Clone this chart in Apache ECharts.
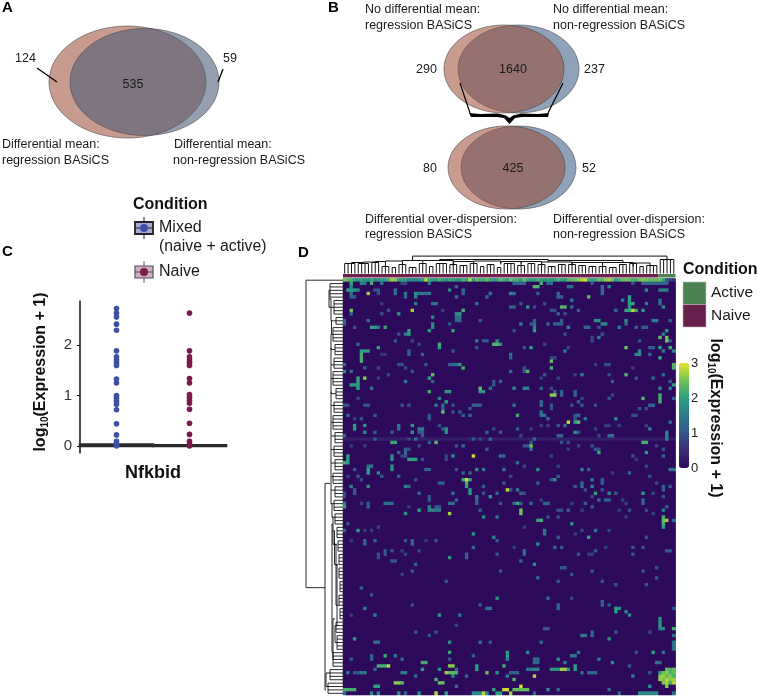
<!DOCTYPE html>
<html><head><meta charset="utf-8">
<style>html,body{margin:0;padding:0;background:#fff}#c{width:758px;height:698px}</style>
<script src="https://cdn.jsdelivr.net/npm/echarts@6/dist/echarts.min.js"></script>
</head><body><div id="c"></div>
<script>
// Panel C
const exprCats = ['Mixed','Naive'];
const exprMixed = [2.73,2.64,2.56,2.42,2.30,1.89,1.77,1.71,1.66,1.60,1.33,1.25,1.0,0.95,0.89,0.83,0.72,0.44,0.22,0.09,0.04,0];
const exprNaive = [2.64,1.89,1.77,1.71,1.66,1.60,1.34,1.25,1.02,0.97,0.91,0.85,0.73,0.45,0.23,0.09,0.04,0];
const exprBox = [[0,0,0,0.03,0.03],[0,0,0,0.015,0.015]];
// Panel D
const colCount = 98, rowCount = 123;
const conditionCols = [['Naive',93],['Active',5]];
const firstRow = [2.5,2.4,2.2,2.0,1.9,2.0,1.8,1.9,2.1,1.7,1.8,2.0,1.9,2.2,2.7,2.6,2.0,2.0,1.9,1.7,1.7,1.6,1.8,2.0,2.8,2.1,2.0,1.9,2.2,2.0,1.8,2.1,2.0,1.9,1.9,2.2,2.0,2.8,2.0,2.4,2.2,2.2,2.4,2.1,2.0,2.0,2.4,2.2,2.0,
 2.5,2.2,2.2,2.0,2.4,2.1,2.0,2.0,2.2,1.9,2.0,2.0,1.8,2.0,2.2,2.1,2.0,2.3,2.4,2.4,2.6,2.8,2.9,2.2,2.0,2.1,2.4,2.3,2.6,2.7,2.5,2.0,2.2,2.4,2.5,2.4,2.2,2.2,2.5,2.6,2.5,2.4,2.4,2.4,2.5,2.0,1.0,0.8,0.6];
const faintRow47 = 0.3;
const cellsUpperLeft = [[1,2,2],[1,5,1.5],[1,6,1.5],[1,8,2.2],[1,11,1.3],[1,17,.8],[1,18,.8],[1,25,1.3],[2,2,1.6],[2,33,1.2],[3,1,1.9],[3,2,1.9],[3,3,1.9],[3,4,1.7],[3,9,1],[3,10,1],[3,15,1.3],[3,31,1.7],[3,35,1.4],[4,2,1.3],[4,7,2.7],[4,10,1],[4,15,1.3],[4,18,1.5],[4,21,1.8],[4,22,1.4],[4,23,1.4],[4,24,1.4],[4,25,1.4],[4,35,1.2],[4,43,1.4],[5,2,1.2],[5,3,1],[5,18,1.3],[5,21,1.7],[5,33,1.4],[5,42,1.3],[7,26,1.5],[7,27,1.5],[7,11,.7],[7,39,1.4],[7,21,1.5],
[9,2,2.5],[9,20,2.7],[9,13,.9],[9,29,.7],[9,35,2.2],[10,33,1.7],[10,34,1.9],[11,33,1.3],[11,34,1.4],[12,33,1.2],[12,34,1.3],[10,2,1.2],[10,11,.9],[10,16,1.9],[11,26,1.7],[12,0,1.2],[13,0,1.1],[12,7,1.3],[13,26,1.7],[13,31,1],[12,40,1.1],[14,8,2],[14,9,2],[14,10,1.5],[14,12,2.1],[14,3,1],[14,26,1.8],[15,32,2.1],[15,25,1.9],[15,19,2],[16,19,2],[16,18,1.6],[16,16,.9],
[19,4,1.2],[19,28,2.2],[20,28,2],[18,39,1.5],[18,42,1.1],[18,41,1],[18,45,1.6],[19,44,2.3],[19,45,2.3],[19,46,1.8],[20,39,1],[20,10,2],[18,15,1],[18,20,.8],[19,22,.8],[21,5,2],[21,6,2],[21,7,2],[22,5,2.2],[23,5,2.2],[24,5,2.2],[21,19,1.1],[22,19,1.1],[22,23,1.2],[21,32,1],[22,11,.6],[22,12,.6],[26,10,.9],[26,6,1],[25,0,1.2],[27,0,1.7],[27,2,1.3],[25,16,.9],[25,17,.9],[27,20,1],[26,18,.9],[25,24,1],[25,31,1],[25,34,1.9],[25,32,1.3],[25,33,1.3],[26,35,2.2],[28,26,2.4],[29,25,2],[29,4,2.1],[29,6,2.6],[31,2,2],[31,3,2],[30,4,2],[31,4,2],[32,4,2],[29,10,.8],[30,18,1.5],[30,26,1.2],[30,44,1],[31,44,1],[30,46,1.3],[28,13,.9],[32,8,1.5],[32,40,2.4],[33,40,1.9],[33,41,1.9],[33,30,1.9],[33,31,1.9],[33,25,2.2],[32,43,1.3],[35,28,1.5],[36,30,2],[37,27,1.5],[37,29,1.2],[38,29,1.2],[39,29,2.4],[37,38,1.1],[37,39,1.1],[37,40,1.1],[37,0,1],[37,1,1],[37,6,1],[37,7,1],[37,17,1],[37,19,1],[35,4,.8],[38,37,1],[37,32,1],[39,32,1],[39,34,1]];
const cellsUpperRight = [[1,50,1.2],[1,51,1.2],[1,52,1.2],[1,53,1.2],[1,58,2.2],[1,60,1.2],[1,61,1.2],[2,66,1.3],[2,67,1.3],[2,56,2.3],[2,57,2.3],[2,76,1.3],[3,76,1.3],[4,76,1.3],[2,78,1.6],[1,73,1],[1,85,1],[1,88,1.2],[1,89,1.2],[1,90,1.2],[1,91,1.2],[1,92,1.2],[1,93,1.2],[1,94,1.2],[1,95,1.2],[3,89,1.7],[3,93,1.6],[3,94,1.6],[3,95,1.6],[4,57,1.1],[4,49,1.7],[4,50,1.3],[4,63,1.2],[5,63,1.2],[5,64,1.1],[5,84,2],[6,84,2],[7,84,2],[5,72,2.4],[6,93,1.3],[7,93,1.3],[6,67,1.5],[6,82,1.5],[7,59,.9],[7,89,1.5],[8,49,1.2],[8,50,1.2],[7,52,1],[8,54,1.9],[8,56,.9],[8,64,2.3],[8,65,2.3],[8,67,1.3],[8,94,1.7],[7,85,2.1],[9,83,2.1],[9,84,2.1],[9,85,2.8],[9,86,2.1],[9,80,1.3],[8,84,1.8],[9,88,1.9],[10,63,1.1],[9,69,1.1],[9,61,.9],[9,62,.9],[10,65,1],[12,74,1.8],[12,75,1.8],[12,83,1.8],[13,83,1.3],[12,91,1.6],[12,92,1.6],[12,96,1.2],[13,64,1.1],[12,64,1.1],[12,56,1.1],[13,56,1.3],[14,56,1.6],[15,56,2],[13,55,1],[13,52,1.5],[13,60,1.3],[13,62,1.2],[13,63,1.2],[13,76,1.7],[13,77,1.7],[14,71,1.3],[14,72,1.3],[14,66,1.7],[15,50,.9],[14,81,1.5],[14,86,1.2],[14,88,1.1],[14,89,1.1],[14,75,1],[15,95,2],[16,94,1.5],[17,93,2.4],[17,95,2.5],[18,95,2.5],[16,65,.9],[17,73,.8],[17,75,1.5],[16,76,1],[18,73,.8],[18,87,1],[18,96,1],
[20,53,1],[20,55,2],[20,83,2.5],[20,90,1.1],[20,91,1.1],[20,93,2],[20,96,2.2],[21,97,1.6],[21,65,1.5],[20,66,.8],[19,59,.8],[22,86,1.7],[22,87,1.7],[21,87,1.7],[22,49,1.3],[23,49,1.2],[21,94,1.4],[22,90,1.2],[23,93,2.1],[23,61,.8],[23,62,.8],[24,61,2.4],[26,61,2.2],[26,53,1],[27,53,1],[27,54,2.3],[25,74,.7],[25,77,.9],[25,78,.9],[26,85,.7],[25,97,2.3],[26,97,2.3],[27,49,1.2],[28,59,1],[28,68,.8],[28,70,1.5],[28,83,2.3],[28,78,.9],[29,86,1],[29,91,1.3],[30,79,1.2],[28,94,1.2],[30,96,1.1],[29,63,.7],[29,58,.7],[32,50,1.7],[32,53,1.6],[32,54,1.6],[32,58,1.2],[32,61,.9],[32,93,1.6],[32,96,1.6],[33,62,1.2],[33,64,1.2],[34,64,1.2],[33,68,1.2],[34,68,1.2],[31,97,2],[34,93,2.2],[35,93,2.2],[36,93,2.2],[34,61,2.6],[34,62,2.6],[35,70,.8],[35,78,1],[35,88,2.3],[35,97,1.1],[34,79,.8],[37,50,1.5],[36,58,1.2],[37,58,1.3],[37,61,1],[36,69,1.2],[37,67,1],[37,70,1],[37,74,.9],[37,90,1.2],[37,91,1.2],[38,87,1],[38,89,.9],[39,58,1.3],[40,51,2.2],[38,61,.9],[40,69,1.3]];
const cellsMiddleLeft = [[40,1,1.3],[41,3,.8],[41,5,1],[40,9,1.1],[40,25,1],[41,25,1],[40,35,1.2],[40,37,1.2],[43,3,2],[44,3,2],[43,6,1.9],[45,6,1.7],[43,16,1.4],[44,16,1.4],[43,20,1.9],[45,20,1.8],[44,22,1.5],[44,23,1.5],[45,9,1.1],[45,14,1.1],[44,30,1.8],[45,30,1.8],[43,28,.9],[44,29,1],[45,22,1],[45,23,1],[46,23,1],[46,0,1.2],[45,42,1.2],[44,44,.8],[45,46,1.1],[47,9,1.1],[48,14,2.1],[48,15,2.1],[47,21,1.4],[47,19,.8],[48,25,1.1],[48,27,2.3],[47,38,1.1],[47,43,1.3],[47,40,.8],[50,18,1.2],[51,18,1.2],[50,19,.9],[49,33,1],[49,35,1.3],[49,22,.8],[49,6,.7],[49,2,.7],[50,42,1],[52,1,2],[53,1,2],[54,1,2],[54,0,2.2],[52,14,1.8],[53,14,1.8],[51,16,1.3],[52,17,.8],[53,19,2],[53,20,2],[53,21,2],[52,18,1],[52,32,1.8],[52,38,2.9],[53,23,1],[52,30,.8],[53,30,.8],[52,46,1.4],[52,47,1.2],[55,7,1.4],[55,8,1.4],[56,7,2],[57,7,2],[55,14,1.8],[56,14,1.8],[56,3,1.1],[57,10,1.7],[58,11,1],[58,4,1],[58,1,.7],[58,16,1],[56,24,1.2],[56,25,1.2],[56,33,1],[57,35,1.2],[56,39,1.8],[56,41,1.6],[56,47,1.4],[57,37,1.2],[59,35,2.1],[59,36,2.9],[59,37,2.1],[60,36,2.2],[61,36,2],[59,5,.9],[59,21,.9],[60,28,1.2],[60,29,1.2],[61,2,1.6],[61,18,1.7],[61,19,1.2],[61,7,1.8],[62,3,1.1],[63,3,1.1],[62,37,1.9],[63,37,1.9],[61,41,1.1],[63,41,1],[62,48,2.8],[60,47,1],[63,0,.9],[63,22,1.3],[64,25,1],[65,25,1],[63,32,1.4],[64,39,1.5],[65,39,1.2],[64,43,2],[63,45,1.2],[65,33,1.2],[64,0,.8],[66,12,1.4],[66,13,1.4],[66,14,1.4],[66,0,1.6],[67,0,2],[66,7,1.1],[67,7,1.1],[66,5,.8],[66,31,1.4],[66,32,1.4],[66,39,1.1],[67,25,1.6],[68,25,1.6],[68,26,1.7],[67,27,1],[67,28,1],[68,27,1.5],[68,28,1.5],[68,22,2],[67,19,.7],[68,40,1.1],[66,46,1],[69,18,1.8],[69,31,2.7],[70,41,1.8],[70,45,1.5],[72,1,1],[73,10,.8],[74,0,1.2],[74,4,2],[74,6,.7],[74,8,.7],[75,38,1.8],[76,44,1.6],[77,45,1],[77,6,1.2],[78,6,1.2],[77,2,.7],[77,9,1.2],[77,18,1],[77,20,1.2],[78,20,1.2],[77,24,.7],[77,27,1],[80,22,.9],[79,38,1.2],[81,10,1],[80,12,1],[81,12,1],[80,14,1],[80,17,.7],[81,36,1.2],[82,36,1.2],[81,45,1],[82,31,1.9],[82,10,.9],[83,14,1],[81,18,.8]];
const cellsMiddleRight = [[40,58,1.4],[40,59,1.4],[41,60,1.3],[40,68,1],[42,69,2.4],[42,68,2],[42,66,2.9],[41,71,1.5],[41,80,1.7],[41,68,1],[43,65,1.3],[43,63,.9],[43,58,.7],[43,60,.7],[44,74,.7],[43,77,.7],[43,78,.7],[43,81,.7],[43,89,.7],[42,96,1.3],[40,86,.9],[40,85,.9],[44,90,1.6],[44,51,1.1],[44,55,.7],[45,69,1],[45,68,1.9],[46,63,1.2],[46,64,1.2],[46,52,.8],[45,95,1.6],[46,95,1.6],[47,95,1.6],[46,78,1.3],[46,79,1.3],[46,75,.8],[47,56,1.3],[48,55,1],[48,64,1],[48,66,.9],[49,55,2.5],[49,53,1],[49,54,1],[50,55,1.4],[49,73,1],[50,74,1],[50,75,.9],[50,66,.7],[49,69,.8],[48,88,2.2],[48,89,2.2],[51,89,1.9],[49,92,.8],[50,94,1],[51,75,2.1],[52,61,.8],[52,85,1],[52,94,1.2],[53,86,.7],[54,51,1.4],[55,53,.8],[55,63,.7],[55,89,.8],[56,97,1.4],[56,96,1.4],[56,57,1.8],[56,70,1.5],[56,72,1.2],[57,84,1.2],[58,49,.8],[58,63,1],[58,90,.9],[57,79,.7],[59,62,1.8],[59,61,1],[59,73,1.5],[59,76,1.1],[60,76,1.1],[60,57,1.1],[60,70,1.3],[61,70,1.3],[61,73,1.7],[61,68,1],[60,92,.8],[61,96,1.1],[61,94,1.2],[62,94,1.2],[62,71,.9],[62,76,1],[62,49,1.1],[62,51,1.5],[63,52,1.2],[63,53,.9],[63,74,2.1],[63,78,1.7],[63,80,1],[63,88,2],[63,91,.8],[64,73,.8],[64,94,1],[65,75,1.2],[65,77,1.1],[65,78,1.1],[65,82,.7],[65,88,1.2],[66,88,1.2],[66,51,2.1],[66,50,1.2],[66,52,1.2],[66,55,1.3],[66,59,1.3],[66,60,1.3],[66,67,.7],[66,71,1.1],[66,83,.7],[67,73,1],[67,95,1.1],[65,58,.7],[68,52,2.5],[69,52,2.5],[68,63,.9],[68,64,.9],[68,66,1.2],[68,70,.7],[68,81,.7],[68,84,.9],[68,89,.9],[68,94,1.5],[70,60,.9],[70,63,.9],[70,83,.7],[69,91,.7],[70,94,2.2],[71,94,2.4],[72,94,2.2],[73,94,2],[71,95,2.7],[71,97,1.3],[71,57,2],[71,58,2.2],[72,67,1.8],[73,53,.7],[74,70,.8],[74,59,1.5],[75,59,1.5],[74,74,1.4],[74,78,.8],[75,68,.7],[76,63,1],[76,72,2],[76,89,.9],[78,57,1.7],[79,62,1.3],[79,64,1],[80,53,1.3],[81,53,1.3],[79,50,.7],[79,85,1],[79,88,1],[80,74,1],[81,72,.7],[81,73,.7],[80,95,1.1],[80,96,1.1],[81,85,1],[81,69,1],[79,77,.7]];
const cellsLower = [[83,15,1],[83,52,1.2],[84,56,1.7],[84,21,1.1],[86,46,1],[85,64,1],[85,65,1],[87,67,1],[86,73,1],[86,88,1],[85,92,1],[86,20,1],[87,17,.8],[89,30,1],[88,57,1.2],[89,63,1],[89,76,1],[90,80,1.1],[90,89,1],[88,92,1],[91,5,1],[93,8,1],[94,45,1.8],[94,60,1.3],[96,63,1.2],[97,63,1.2],[95,76,1.2],[96,76,1.2],[94,67,.8],[97,81,1.8],[97,80,2],[98,80,2],[98,83,1.7],[99,84,1.7],[96,78,1],[97,42,1.4],[97,43,1.4],[99,34,1.4],[99,28,1.9],[97,6,1.6],[99,9,1.5],[96,20,.9],[99,2,.7],[96,40,1.1],[97,97,1],[100,93,1.7],[101,93,1.8],[102,93,1.9],[103,93,1.6],[103,94,1.6],[103,97,2.2],[104,90,.9],[104,73,1.3],[105,73,1.3],[106,78,1.8],[104,80,1],[105,70,1.5],[105,71,1.5],[103,59,1],[103,60,1],[107,58,1.3],[107,40,1.3],[107,43,1],[107,31,1.7],[105,25,1],[107,9,1.3],[107,10,1.3],[106,3,1.9],[105,97,1.3],[107,97,1.4],[108,97,1.4],[109,97,1.4],[104,27,1],[104,21,1],[102,33,.8],
[110,91,2],[110,94,1.4],[110,86,.9],[110,48,1.9],[111,48,1.9],[110,31,2.1],[110,54,1.7],[110,69,1.4],[111,15,1.5],[111,8,1.2],[112,8,1.2],[112,2,1],[111,38,1.2],[112,56,1.3],[112,57,1.3],[113,56,1.3],[113,57,1.3],[111,67,1.5],[111,68,1.5],[112,75,1.4],[112,63,1.8],[113,65,1.5],[112,48,1.5],[113,23,2.2],[113,24,2.2],[112,17,1.3],[111,12,2.1],[112,31,1],[113,79,1.7],[113,92,1.4],[113,93,1.4],[114,84,1],
[114,10,2.2],[114,11,2.2],[114,12,2.2],[114,13,2.8],[114,39,2],[115,39,2],[114,31,2.6],[114,32,2.6],[114,47,2.2],[115,61,1.8],[115,62,1.8],[115,63,1.8],[115,64,2.7],[115,65,2.7],[115,66,1.8],[114,68,2],[115,68,2],[115,56,1.6],[115,57,1.6],[115,54,1.4],[115,55,1.4],[116,49,1.2],[116,50,1.2],[116,51,1.2],[115,23,2],[116,17,1.6],[116,18,1.6],[115,28,1.8],[116,30,2.7],[116,31,2.4],[116,32,2.4],[116,33,2.2],[115,33,1.3],[116,42,2.5],[116,70,1.3],[116,72,1.3],[116,73,1.3],[116,74,1.3],[116,5,1.6],[116,6,1.6],[115,9,1.2],[116,3,1],[116,4,1],[116,1,1.5],[117,85,1.5],[116,90,1],[116,45,1.8],[117,48,1.5],[117,56,2.8],[117,36,1.3],[117,32,1.7],[118,27,2.2],[117,21,1.3],[118,50,2.3],
[115,95,2.4],[115,96,2.2],[115,97,2.4],[116,93,2],[116,94,2.5],[116,95,2.6],[116,96,2.2],[116,97,2.4],[117,93,2.6],[117,94,2.7],[117,95,2.4],[117,96,2.6],[117,97,2.2],[118,93,2.7],[118,94,2.5],[118,95,2.8],[118,96,2.6],[118,97,2.7],[119,94,2.6],[119,95,2.7],[119,96,2.2],[119,97,2.8],[120,95,2.6],
[119,28,2.4],[119,29,2.4],[119,15,2.6],[119,16,2.6],[119,17,2.3],[120,9,2],[120,10,2],[120,90,1.7],[121,0,2.2],[121,1,2.2],[121,2,2.2],[121,3,2.2],[120,33,1.3],[121,47,2.9],[121,48,2.9],[121,50,2.4],[121,51,2.4],[121,52,2.4],[121,53,2.4],[121,54,2.4],[120,52,2.9],[121,44,2],[122,45,2],[122,46,2],[122,38,1.7],[122,39,1.7],[122,40,1.7],[122,41,2.8],[122,42,1.7],[121,60,1.7],[122,87,1.7],[122,88,1.7],[122,89,1.7],[122,90,1.7],[122,91,1.7],[122,92,1.7],[121,63,1.2],[122,16,1.8],[122,10,1.7],[122,27,2.8],[122,30,2],[122,49,2.7],[122,22,1.8],[122,8,1.7],[122,0,1.3],[122,56,1.3],[121,78,1.2],[122,81,1.2],[122,97,1.3],[122,18,1.2]];
// Dendrograms: combs [first leaf, last leaf, height]; links [a, b, height, dropA, dropB]
const topCombs = [[0,3,10],[4,7,10],[8,10,11],[11,13,7],[14,15,6],[16,18,9],[19,21,6],[22,24,10],[25,26,7],[27,30,10],[31,33,9],[34,36,8],[37,39,10],[40,41,7],[42,44,9],[45,46,6],[47,50,10],[51,53,8],[54,56,10],[57,59,9],[60,62,7],[63,65,9],[66,68,9],[69,71,8],[72,74,7],[75,77,7],[78,80,6],[81,83,9],[84,86,10],[87,88,7],[89,92,8],[93,97,14]];
const topLinks = [[2,5.5,11,10,10],[5.5,9,11.5,11,11],[9,12,12,11.5,7],[12,17,12.5,12,9],[17,23,13,12.5,10],[23,32,13,13,9],[32,38,12,8,10],[38,46,12.5,12,9],[46,52,12,10,8],[52,58,12,10,9],[58,67,11.5,9,9],[67,76,11,8,7],[76,85,11,6,10],[85,90,10.5,7,8],[28,60,14,13,12],[60,82,13,11.5,11],[20,95,17.4,13,14]];
const leftCombs = [[1,5,13],[6,10,9],[11,13,7],[14,18,10],[19,22,8],[23,26,9],[27,31,10],[32,35,7],[36,39,9],[40,44,10],[45,48,8],[49,52,9],[53,56,8],[57,60,10],[61,64,8],[65,68,9],[69,72,8],[73,76,6],[77,80,5],[81,84,4],[85,88,4],[89,92,3],[93,96,4],[97,100,3],[101,104,7],[105,109,6],[110,114,10],[115,118,13],[119,122,15]];
const leftLinks = [[3,8,14,13,9],[5.5,12,12,14,7],[12,16,11.5,12,10],[16,20.5,12,11.5,8],[20,25,12,12,9],[25,29,12,12,10],[29,33.5,12,12,7],[33,37,12,12,9],[37,42,12,12,10],[42,46,12,12,8],[46,50,12,12,9],[50,54,12,12,8],[54,58,12,12,10],[58,62,12,12,8],[62,66,12,12,9],[66,70,11,12,8],[70,78,10,11,6],[74,84,8.5,10,5],[78,96,7,8.5,4],[84,102,6,7,7],[102,107,8,6,6],[100,112,10,8,10],[72,110,11,10,10],[116,120,17,13,15],[60,121,18,13,17],[0,90.8,37,0,18]];
// Venn counts
const vennA = ['124','535','59'];
const vennB1 = ['290','1640','237'];
const vennB2 = ['80','425','52'];

const FONT = '"Liberation Sans", Arial, sans-serif';
const toSegments = (combs, links, offset) => {
  const s = [];
  combs.forEach(([a,b,h]) => {
    s.push([a+offset,h,b+offset,h]);
    for (let i=a;i<=b;i++) s.push([i+offset,0,i+offset,h]);
  });
  links.forEach(([a,b,h,da,db]) => {
    s.push([a+offset,h,b+offset,h],[a+offset,da,a+offset,h],[b+offset,db,b+offset,h]);
  });
  return s;
};
const topSegs = toSegments(topCombs, topLinks, .5);
const leftSegs = toSegments(leftCombs, leftLinks, .5).map(([a,h,b,k]) => [h,a,k,b]);
const segItem = w => (p, api) => {
  const a = api.coord([api.value(0),api.value(1)]), b = api.coord([api.value(2),api.value(3)]);
  return {type:'line', shape:{x1:a[0],y1:a[1],x2:b[0],y2:b[1]}, style:{stroke:'#111',lineWidth:w}};
};

const zeroMap = new Map();
for (let r=0;r<rowCount;r++) for (let c=0;c<colCount;c++) zeroMap.set(r+'_'+c, r===0 ? firstRow[c] : (r===47 ? faintRow47 : 0));
[cellsUpperLeft,cellsUpperRight,cellsMiddleLeft,cellsMiddleRight,cellsLower].forEach(l => l.forEach(([r,c,v]) => zeroMap.set(r+'_'+c, v)));
const heatData = [];
zeroMap.forEach((v,k) => { const [r,c]=k.split('_').map(Number); heatData.push([c,r,v]); });

const T = (text,x,y,opt={}) => ({type:'text',x,y,silent:true,style:Object.assign({text,fill:'#1a1a1a',font:'12.5px '+FONT,align:'left',verticalAlign:'middle'},opt)});
const E = (cx,cy,rx,ry,fill) => ({type:'ellipse',shape:{cx,cy,rx,ry},silent:true,style:{fill,stroke:'#4a4a4a',lineWidth:.6}});
const L = (pts,w=1.3) => ({type:'polyline',shape:{points:pts},silent:true,style:{stroke:'#000',lineWidth:w,fill:'none'}});
const bold15 = 'bold 15px '+FONT, bold16 = 'bold 16px '+FONT;
const RED='rgba(155,72,50,.54)', BLUE='rgba(72,90,118,.58)', REDO='#c89b8f', BLUEO='#8fa2ba';
const legendKey = (cy,fill,border,dot,bw) => [
  {type:'line',shape:{x1:144,y1:cy-11,x2:144,y2:cy+11},silent:true,style:{stroke:border,lineWidth:1}},
  {type:'rect',shape:{x:135,y:cy-6,width:18,height:12},silent:true,style:{fill,stroke:border,lineWidth:bw}},
  {type:'line',shape:{x1:135,y1:cy,x2:153,y2:cy},silent:true,style:{stroke:border,lineWidth:1}},
  {type:'circle',shape:{cx:144,cy,r:4},silent:true,style:{fill:dot}}
];
const expLabel = (x,y,rot) => ({type:'text',x,y,rotation:rot,silent:true,style:{text:'{a|log}{b|10}{a|(Expression + 1)}',align:'center',verticalAlign:'middle',rich:{a:{font:'bold 16px '+FONT,fill:'#111',lineHeight:18},b:{font:'bold 10px '+FONT,fill:'#111',lineHeight:18,verticalAlign:'bottom'}}}});

const graphicEls = [
  T('A',2,8,{font:bold15,fill:'#000'}),T('B',328,8,{font:bold15,fill:'#000'}),T('C',2,252,{font:bold15,fill:'#000'}),T('D',298,253,{font:bold15,fill:'#000'}),
  // Venn A
  E(127.5,82,78.5,56,REDO),E(144.5,82,74.5,53.5,BLUE),
  L([[37,68],[57,82]]),L([[223,69],[218,82]]),
  T(vennA[0],15,59),T(vennA[1],133,85,{align:'center'}),T(vennA[2],223,59),
  T('Differential mean:',2,145),T('regression BASiCS',2,161),T('Differential mean:',174,145),T('non-regression BASiCS',173,161),
  // Venn B
  E(518.5,69,60.5,44,BLUEO),E(504,69,60,44,RED),
  E(518.5,167.5,57.5,41.5,BLUEO),E(506.5,167.5,58.5,41.5,RED),
  L([[460,83],[470,113]],1.2),L([[563,83],[548,113]],1.2),
  {type:'polygon',shape:{points:[[469,113],[480,114],[498,113.5],[506,115.5],[509.5,118],[513,115.5],[521,113.5],[538,114],[549,113],[548,117],[522,117],[515,118],[509.5,124],[504,118],[497,117],[471,117]]},silent:true,style:{fill:'#000'}},
  T(vennB1[0],416,70),T(vennB1[1],513,70,{align:'center'}),T(vennB1[2],584,70),
  T(vennB2[0],423,169),T(vennB2[1],513,169,{align:'center'}),T(vennB2[2],582,169),
  T('No differential mean:',365,10),T('regression BASiCS',365,26),T('No differential mean:',553,10),T('non-regression BASiCS',553,26),
  T('Differential over-dispersion:',365,220),T('regression BASiCS',365,235),T('Differential over-dispersion:',553,220),T('non-regression BASiCS',553,235),
  // Panel C legend
  T('Condition',133,205,{font:bold16,fill:'#111'}),
  ...legendKey(228,'#a8a8d4','#222','#3f4fa3',1.8),
  T('Mixed',159,228,{font:'16px '+FONT}),T('(naive + active)',159,247,{font:'15.8px '+FONT}),
  ...legendKey(272,'#cfaebc','#555','#7a1a4c',1.2),
  T('Naive',159,272,{font:'16px '+FONT}),
  // Panel D legend
  T('Condition',683,270,{font:bold16,fill:'#111'}),
  {type:'rect',shape:{x:683,y:282,width:23,height:22.5},silent:true,style:{fill:'#4d8252',stroke:'#b9c9b9',lineWidth:.6}},
  {type:'rect',shape:{x:683,y:304.5,width:23,height:22.5},silent:true,style:{fill:'#66204c',stroke:'#c4b0bc',lineWidth:.6}},
  T('Active',711,293,{font:'15.5px '+FONT}),T('Naive',711,316,{font:'15.5px '+FONT}),
  expLabel(715,418,-Math.PI/2)
];

const hiddenAxis = (o) => Object.assign({show:false},o);
const option = {
  animation:false,
  backgroundColor:'#fff',
  textStyle:{fontFamily:FONT},
  grid:[
    {left:80,top:301,width:146,height:152},
    {left:343,top:278.5,width:332.5,height:416.5,show:true,borderWidth:0,backgroundColor:'#32105f'},
    {left:343,top:274,width:332.5,height:3.5},
    {left:343,top:254,width:332.5,height:19.5},
    {left:303,top:278.5,width:40,height:416.5},
    {left:679,top:363,width:10,height:105}
  ],
  xAxis:[
    {gridIndex:0,type:'category',data:exprCats,axisLine:{show:false},axisTick:{show:false},axisLabel:{show:false},name:'Nfkbid',nameLocation:'middle',nameGap:11,nameTextStyle:{fontWeight:'bold',fontSize:18,color:'#111'}},
    hiddenAxis({gridIndex:1,type:'category',data:[...Array(colCount).keys()]}),
    hiddenAxis({gridIndex:2,type:'value',min:0,max:colCount}),
    hiddenAxis({gridIndex:3,type:'value',min:0,max:colCount}),
    hiddenAxis({gridIndex:4,type:'value',min:0,max:40,inverse:true}),
    hiddenAxis({gridIndex:5,type:'value',min:0,max:1})
  ],
  yAxis:[
    {gridIndex:0,type:'value',min:-0.14,max:2.88,splitLine:{show:false},
     axisLine:{show:true,onZero:false,lineStyle:{color:'#111',width:1.5}},
     axisTick:{show:true,length:3,lineStyle:{color:'#111'},customValues:[0,1,2]},
     axisLabel:{fontSize:15,color:'#333',margin:8,customValues:[0,1,2]},
     name:'{a|log}{b|10}{a|(Expression + 1)}',nameLocation:'middle',nameGap:30,
     nameTextStyle:{padding:[0,0,0,10],rich:{a:{fontFamily:FONT,fontWeight:'bold',fontSize:16,color:'#111',lineHeight:18},b:{fontFamily:FONT,fontWeight:'bold',fontSize:10,color:'#111',lineHeight:18,verticalAlign:'bottom'}}}},
    hiddenAxis({gridIndex:1,type:'category',inverse:true,data:[...Array(rowCount).keys()]}),
    hiddenAxis({gridIndex:2,type:'category',data:['Condition']}),
    hiddenAxis({gridIndex:3,type:'value',min:0,max:19.5}),
    hiddenAxis({gridIndex:4,type:'value',min:0,max:rowCount,inverse:true}),
    {gridIndex:5,type:'value',position:'right',min:0,max:3,interval:1,splitLine:{show:false},axisLine:{show:false},axisTick:{show:false},axisLabel:{fontSize:13,color:'#222',margin:2}}
  ],
  visualMap:{type:'continuous',seriesIndex:3,min:0,max:3,left:679,top:363,padding:0,itemWidth:10,itemHeight:105,calculable:false,realtime:false,text:null,
    inRange:{color:['#2d0a5b','#3a2c74','#34578a','#2c7a8c','#2aa080','#72c455','#e4e52a']}},
  series:[
    {name:'Box',type:'boxplot',xAxisIndex:0,yAxisIndex:0,data:exprBox,boxWidth:[73,73],itemStyle:{color:'#333',borderColor:'#2a2a2a',borderWidth:2.6},silent:true,z:1},
    {name:'Mixed',type:'scatter',xAxisIndex:0,yAxisIndex:0,symbolSize:5.6,itemStyle:{color:'#3f4fa3',opacity:1},data:exprMixed.map(v=>['Mixed',v]),z:3},
    {name:'Naive',type:'scatter',xAxisIndex:0,yAxisIndex:0,symbolSize:5.6,itemStyle:{color:'#7a1a4c',opacity:1},data:exprNaive.map(v=>['Naive',v]),z:3},
    {name:'Expression',type:'heatmap',xAxisIndex:1,yAxisIndex:1,data:heatData,progressive:0,animation:false,silent:true},
    ...conditionCols.map(([n,w],i)=>({name:n,type:'bar',stack:'cond',xAxisIndex:2,yAxisIndex:2,barWidth:'100%',silent:true,itemStyle:{color:i?'#4d8252':'#6f1f4c'},data:[w]})),
    {type:'custom',xAxisIndex:3,yAxisIndex:3,clip:false,silent:true,encode:{x:[0,2],y:[1,3]},data:topSegs,renderItem:segItem(1)},
    {type:'custom',xAxisIndex:4,yAxisIndex:4,clip:false,silent:true,encode:{x:[0,2],y:[1,3]},data:leftSegs,renderItem:segItem(.9)}
  ],
  graphic:{elements:graphicEls}
};
const chart = echarts.init(document.getElementById('c'),null,{renderer:'canvas'});
chart.setOption(option);
</script></body></html>
